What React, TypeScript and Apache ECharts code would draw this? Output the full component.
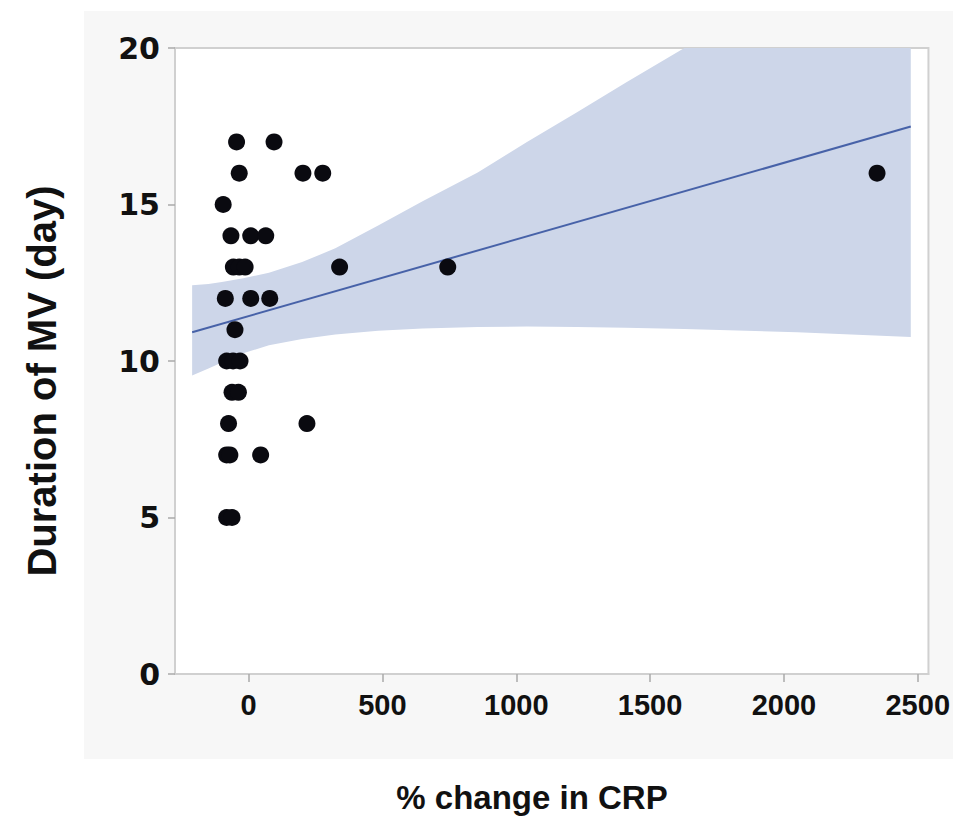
import React, { useEffect, useRef } from "react";
import * as echarts from "echarts";

// Scatter data: % change in CRP (x) vs duration of MV in days (y)
const crpChange = [
  -45, 95,
  -35, 203, 277, 2348,
  -95,
  -66, 8, 64,
  -57, -35, -13, 340, 744,
  -87, 8, 79,
  -51,
  -82, -58, -32,
  -62, -38,
  -75, 218,
  -82, -70, 45,
  -82, -62,
];
const mvDays = [
  17, 17,
  16, 16, 16, 16,
  15,
  14, 14, 14,
  13, 13, 13, 13, 13,
  12, 12, 12,
  11,
  10, 10, 10,
  9, 9,
  8, 8,
  7, 7, 7,
  5, 5,
];

// Regression fit line (end points)
const fitX = [-211, 2474];
const fitY = [10.92, 17.49];

// Confidence band
const bandX = [-211, -150, -100, -20, 76, 200, 324, 484, 650, 856, 1040, 1227, 1410, 1628, 2050, 2474];
const bandLower = [9.54, 9.76, 9.95, 10.25, 10.5, 10.7, 10.85, 10.97, 11.04, 11.09, 11.1, 11.09, 11.06, 11.02, 10.92, 10.77];
const bandUpper = [12.42, 12.46, 12.52, 12.64, 12.82, 13.16, 13.6, 14.33, 15.1, 16.02, 17.0, 17.95, 18.9, 20, 20, 20];

const xTicks = [0, 500, 1000, 1500, 2000, 2500];
const yTicks = [0, 5, 10, 15, 20];

const xTitle = "% change in CRP";
const yTitle = "Duration of MV (day)";

export default function App() {
  const ref = useRef<HTMLDivElement>(null);

  useEffect(() => {
    if (!ref.current) return;
    const chart = echarts.init(ref.current, null, { renderer: "svg" });

    const points = crpChange.map((x, i) => [x, mvDays[i]]);
    const fit = fitX.map((x, i) => [x, fitY[i]]);

    const option: any = {
      animation: false,
      backgroundColor: "#ffffff",
      graphic: {
        elements: [
          {
            type: "rect",
            z: -10,
            shape: { x: 84, y: 11, width: 869, height: 748 },
            style: { fill: "#f7f7f7" },
            silent: true,
          },
          {
            type: "text",
            x: 42,
            y: 381,
            rotation: Math.PI / 2,
            style: {
              text: yTitle,
              fill: "#111111",
              font: "bold 40px 'Liberation Sans', Arial, sans-serif",
              align: "center",
              verticalAlign: "middle",
            },
          },
          {
            type: "text",
            x: 532,
            y: 797,
            style: {
              text: xTitle,
              fill: "#111111",
              font: "bold 33px 'Liberation Sans', Arial, sans-serif",
              align: "center",
              verticalAlign: "middle",
            },
          },
        ],
      },
      grid: {
        left: 175,
        top: 48,
        right: 19,
        bottom: 150,
        show: true,
        backgroundColor: "#ffffff",
        borderColor: "#d0d0d0",
        borderWidth: 2,
      },
      xAxis: {
        type: "value",
        min: -275,
        max: 2540,
        axisLine: { show: true, onZero: false, lineStyle: { color: "#d0d0d0", width: 2 } },
        splitLine: { show: false },
        axisTick: {
          show: true,
          inside: false,
          length: 8,
          customValues: xTicks,
          lineStyle: { color: "#aaaaaa", width: 1.5 },
        },
        axisLabel: {
          customValues: xTicks,
          margin: 16,
          formatter: (v: number) => String(v),
          color: "#111111",
          fontSize: 29,
          fontWeight: "bold",
          fontFamily: "'Liberation Sans', Arial, sans-serif",
        },
      },
      yAxis: {
        type: "value",
        min: 0,
        max: 20,
        interval: 5,
        axisLine: { show: true, onZero: false, lineStyle: { color: "#d0d0d0", width: 2 } },
        splitLine: { show: false },
        axisTick: {
          show: true,
          inside: false,
          length: 7,
          lineStyle: { color: "#aaaaaa", width: 1.5 },
        },
        axisLabel: {
          customValues: yTicks,
          margin: 15,
          color: "#111111",
          fontSize: 30,
          fontWeight: "bold",
          fontFamily: "'DejaVu Sans', sans-serif",
        },
      },
      series: [
        {
          type: "custom",
          silent: true,
          data: [[bandX[0], bandLower[0]]],
          renderItem: (params: any, api: any) => {
            if (params.dataIndex !== 0) return null;
            const up = bandX.map((x, i) => api.coord([x, bandUpper[i]]));
            const lo = bandX.map((x, i) => api.coord([x, bandLower[i]])).reverse();
            return {
              type: "polygon",
              shape: { points: up.concat(lo) },
              style: { fill: "#cdd6e9", stroke: "none" },
            };
          },
          z: 1,
        },
        {
          type: "line",
          data: fit,
          symbol: "none",
          silent: true,
          lineStyle: { color: "#4762a8", width: 2 },
          z: 2,
        },
        {
          type: "scatter",
          data: points,
          symbolSize: 17,
          itemStyle: { color: "#0a0a10", opacity: 1 },
          z: 3,
        },
      ],
    };

    chart.setOption(option);
    return () => chart.dispose();
  }, []);

  return (
    <div
      ref={ref}
      style={{ position: "fixed", left: 0, top: 0, width: 953, height: 824 }}
    />
  );
}
